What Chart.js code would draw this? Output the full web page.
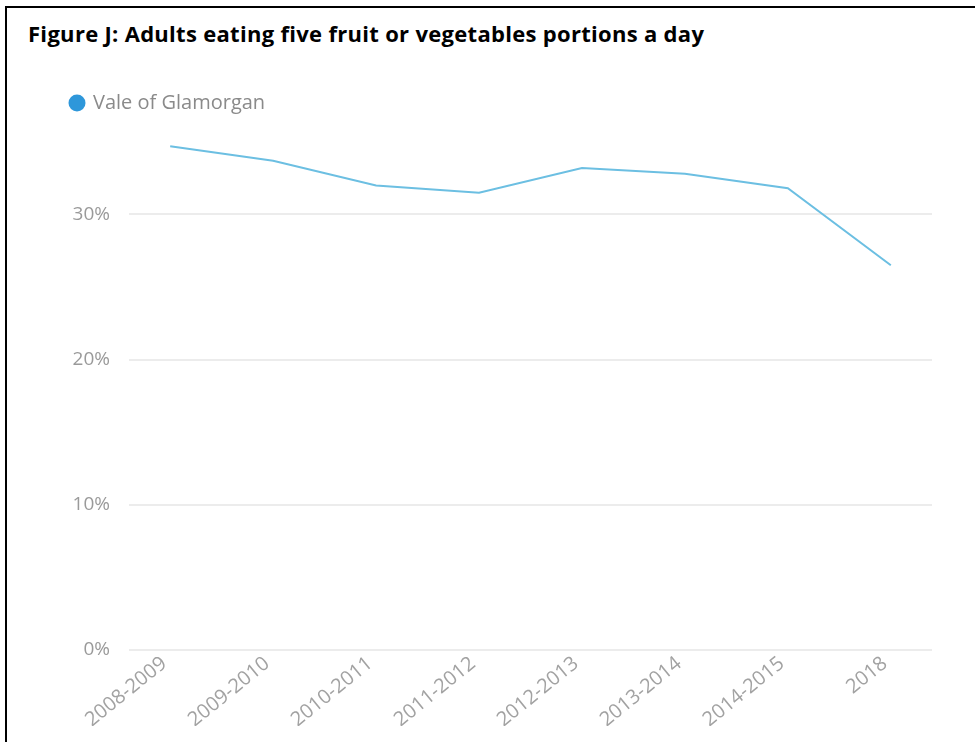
<!DOCTYPE html>
<html lang="en">
<head>
  <meta charset="UTF-8">
  <title>Figure J</title>
  <script src="https://cdn.jsdelivr.net/npm/chart.js"></script>
  <style>
    body {
      margin: 0;
      background: #fff;
      width: 975px;
      height: 742px;
      overflow: hidden;
    }

    .frame {
      position: absolute;
      left: 5px;
      top: 6px;
      width: 975px;
      height: 740px;
      border-left: 2px solid #000;
      border-top: 2px solid #000;
    }

    .title {
      position: absolute;
      left: 21px;
      top: 11px;
      font-family: 'Open Sans', sans-serif;
      font-weight: bold;
      font-size: 22px;
      letter-spacing: 0.3px;
      line-height: 28px;
      color: #000;
    }

    .chart-box {
      position: absolute;
      left: 2px;
      top: 73px;
      width: 966px;
      height: 661px;
    }
  </style>
</head>
<body>
  <div class="frame">
    <div class="title">Figure J: Adults eating five fruit or vegetables portions a day</div>
    <div class="chart-box"><canvas id="fruitChart"></canvas></div>
  </div>

  <script>
    const periods = ['2008-2009', '2009-2010', '2010-2011', '2011-2012', '2012-2013', '2013-2014', '2014-2015', '2018'];
    const valeOfGlamorgan = [34.7, 33.7, 32.0, 31.5, 33.2, 32.8, 31.8, 26.5];
    const yTicks = [0, 10, 20, 30];

    const lineColor = '#6cbfe2';
    const dotColor = '#2e97da';

    window.onload = () => {
      const ctx = document.getElementById('fruitChart').getContext('2d');
      new Chart(ctx, {
        type: 'line',
        data: {
          datasets: [{
            label: 'Vale of Glamorgan',
            data: valeOfGlamorgan.map((v, i) => ({ x: i, y: v })),
            borderColor: lineColor,
            backgroundColor: dotColor,
            borderWidth: 2,
            pointRadius: 0,
            tension: 0,
            fill: false
          }]
        },
        options: {
          responsive: true,
          maintainAspectRatio: false,
          animation: false,
          layout: { padding: { left: 50, right: 43, top: 0, bottom: 16 } },
          plugins: {
            legend: {
              position: 'top',
              align: 'start',
              labels: {
                usePointStyle: true,
                pointStyle: 'circle',
                boxWidth: 12,
                boxHeight: 12,
                padding: 12,
                color: '#8a8a8a',
                font: { family: 'Open Sans', size: 20 },
                generateLabels: chart => [{
                  text: 'Vale of Glamorgan',
                  fillStyle: dotColor,
                  strokeStyle: dotColor,
                  fontColor: '#8a8a8a',
                  lineWidth: 0,
                  pointStyle: 'circle',
                  datasetIndex: 0
                }]
              }
            },
            tooltip: { enabled: false }
          },
          scales: {
            x: {
              type: 'linear',
              min: -0.4,
              max: 7.4,
              afterBuildTicks: axis => {
                axis.ticks = periods.map((p, i) => ({ value: i }));
              },
              // rotated first label may hang over the y axis, like the original
              afterFit: axis => { axis.paddingLeft = 0; },
              grid: { display: false },
              border: { display: false },
              ticks: {
                minRotation: 39,
                maxRotation: 39,
                padding: -6,
                labelOffset: -6,
                color: '#a2a2a2',
                font: { family: 'Open Sans', size: 20 },
                callback: v => periods[v]
              }
            },
            y: {
              min: 0,
              max: 36.3,
              afterBuildTicks: axis => {
                axis.ticks = yTicks.map(v => ({ value: v }));
              },
              afterFit: axis => { axis.width = 70; },
              grid: { color: '#ececec', lineWidth: 2, drawTicks: false },
              border: { display: false },
              ticks: {
                padding: 19,
                color: '#9a9a9a',
                font: { family: 'Open Sans', size: 19 },
                callback: v => v + '%'
              }
            }
          }
        }
      });
    };
  </script>
</body>
</html>
